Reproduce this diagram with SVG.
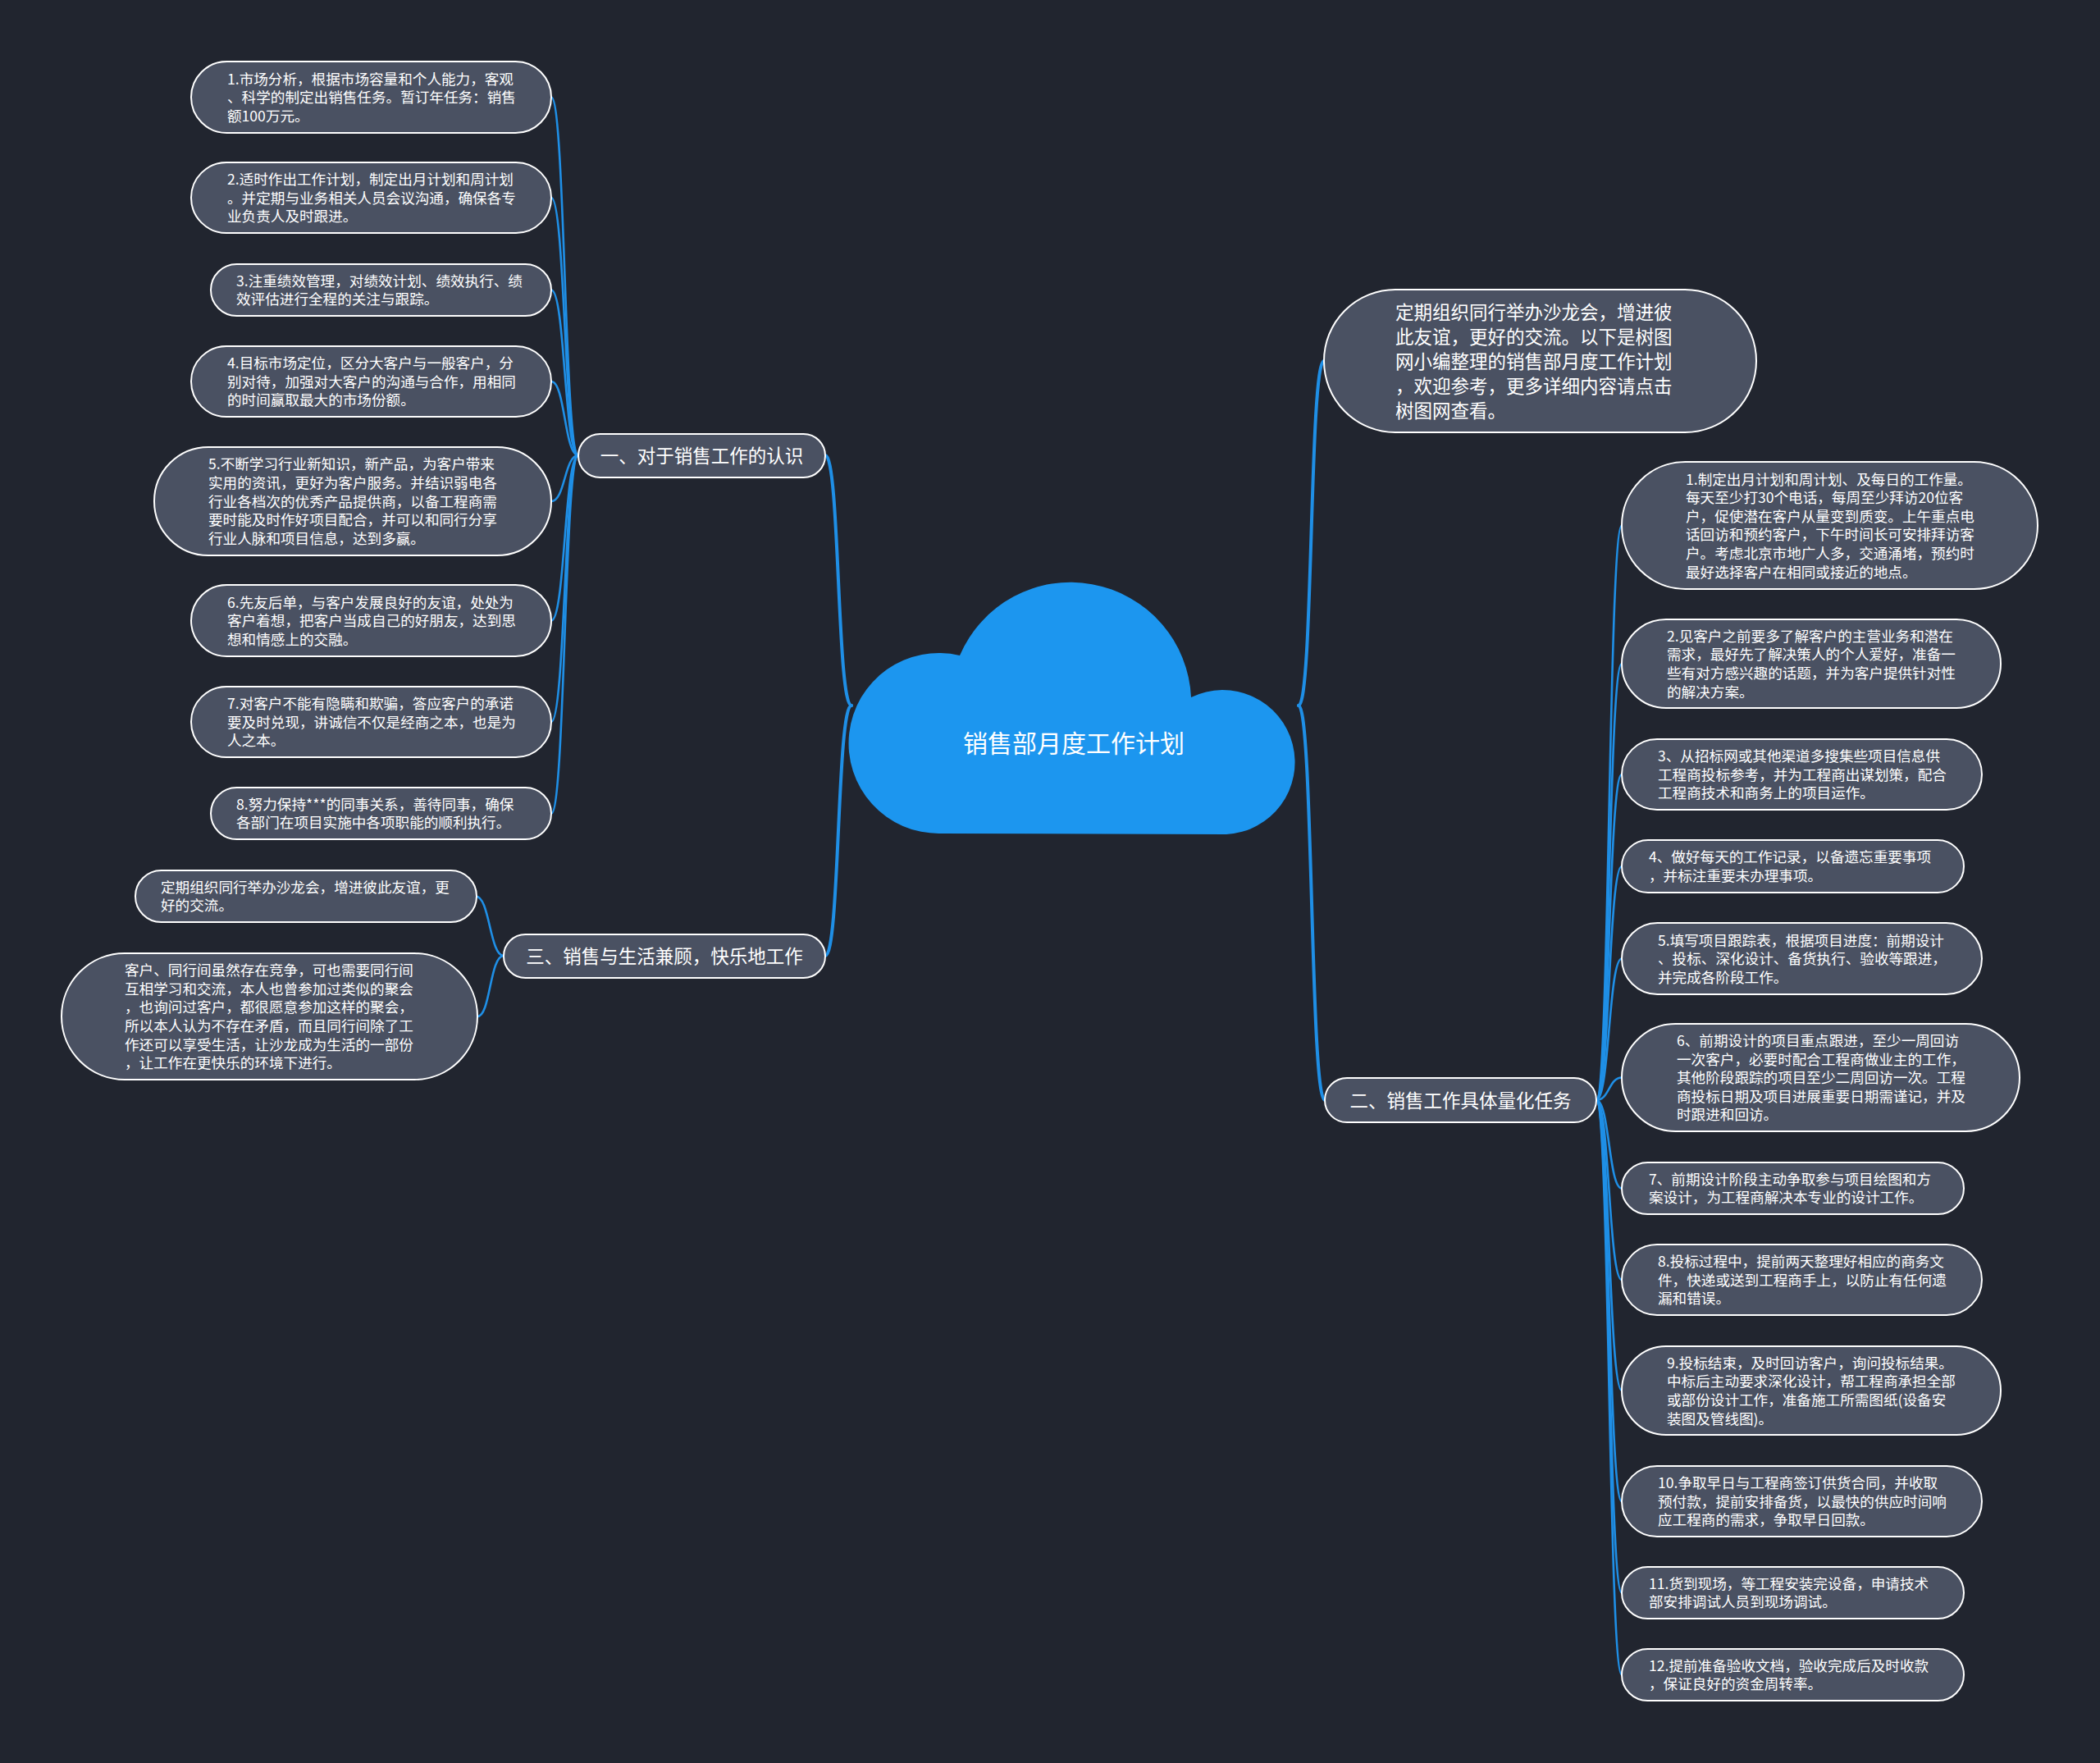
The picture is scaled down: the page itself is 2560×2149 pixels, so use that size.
<svg xmlns="http://www.w3.org/2000/svg" width="2560" height="2149" viewBox="0 0 2560 2149">
<style>
.bg{fill:#21252f}
.node{fill:#4a5162;stroke:#ffffff;stroke-width:2}
.t{font-family:"Noto Sans CJK SC","Microsoft YaHei",sans-serif;fill:#ffffff;dominant-baseline:central}
.leaf{font-size:17.6px}
.branch{font-size:22.5px}
.center{font-size:30px}
.c{fill:none;stroke:#1f8fe6;stroke-linecap:round}
.main{stroke-width:4}
.sub{stroke-width:2.6}
</style>
<rect class="bg" x="0" y="0" width="2560" height="2149"/>
<g id="connectors">
<path class="c main" d="M1038,860 C1020,860 1024,555 1006,555"/>
<path class="c main" d="M1038,860 C1020,860 1024,1165 1006,1165"/>
<path class="c main" d="M1583,860 C1601,860 1596,440 1614,440"/>
<path class="c main" d="M1583,860 C1601,860 1597,1341 1615,1341"/>
<path class="c sub" d="M705,555 C688,555 689,118.5 672,118.5"/>
<path class="c sub" d="M705,555 C688,555 689,241 672,241"/>
<path class="c sub" d="M705,555 C688,555 689,353.5 672,353.5"/>
<path class="c sub" d="M705,555 C688,555 689,465 672,465"/>
<path class="c sub" d="M705,555 C688,555 689,611 672,611"/>
<path class="c sub" d="M705,555 C688,555 689,756.5 672,756.5"/>
<path class="c sub" d="M705,555 C688,555 689,880 672,880"/>
<path class="c sub" d="M705,555 C688,555 689,991.5 672,991.5"/>
<path class="c sub" d="M614,1165 C597,1165 597,1092.5 580,1092.5"/>
<path class="c sub" d="M614,1165 C597,1165 598,1239 582,1239"/>
<path class="c sub" d="M1946,1341 C1962,1341 1961,640.5 1977,640.5"/>
<path class="c sub" d="M1946,1341 C1962,1341 1961,809 1977,809"/>
<path class="c sub" d="M1946,1341 C1962,1341 1961,944 1977,944"/>
<path class="c sub" d="M1946,1341 C1962,1341 1961,1056 1977,1056"/>
<path class="c sub" d="M1946,1341 C1962,1341 1961,1168.5 1977,1168.5"/>
<path class="c sub" d="M1946,1341 C1962,1341 1961,1313.5 1977,1313.5"/>
<path class="c sub" d="M1946,1341 C1962,1341 1961,1448.5 1977,1448.5"/>
<path class="c sub" d="M1946,1341 C1962,1341 1961,1560 1977,1560"/>
<path class="c sub" d="M1946,1341 C1962,1341 1961,1695 1977,1695"/>
<path class="c sub" d="M1946,1341 C1962,1341 1961,1830 1977,1830"/>
<path class="c sub" d="M1946,1341 C1962,1341 1961,1941.5 1977,1941.5"/>
<path class="c sub" d="M1946,1341 C1962,1341 1961,2041.5 1977,2041.5"/>
</g>
<g id="root">
<path d="M1146,1016 A110,110 0 1 1 1170,799 A147,147 0 0 1 1452,850 A88,88 0 1 1 1495,1017 Z" fill="#1c96ef"/>
<text class="t center" x="1309" y="904" text-anchor="middle">销售部月度工作计划</text>
</g>
<g id="intro">
<rect class="node" x="1614" y="353" width="527" height="174" rx="87" ry="87"/>
<text class="t branch"><tspan x="1701" y="379">定期组织同行举办沙龙会，增进彼</tspan><tspan x="1701" y="409">此友谊，更好的交流。以下是树图</tspan><tspan x="1701" y="439">网小编整理的销售部月度工作计划</tspan><tspan x="1701" y="469">，欢迎参考，更多详细内容请点击</tspan><tspan x="1701" y="499">树图网查看。</tspan></text>
</g>
<g id="b1">
<rect class="node" x="705" y="529" width="301" height="53" rx="26.5" ry="26.5"/>
<text class="t branch" x="855.5" y="554" text-anchor="middle">一、对于销售工作的认识</text>
</g>
<g id="b3">
<rect class="node" x="614" y="1139" width="392" height="53" rx="26.5" ry="26.5"/>
<text class="t branch" x="810" y="1164" text-anchor="middle">三、销售与生活兼顾，快乐地工作</text>
</g>
<g id="b2">
<rect class="node" x="1615" y="1314" width="331" height="54" rx="27" ry="27"/>
<text class="t branch" x="1780.5" y="1340" text-anchor="middle">二、销售工作具体量化任务</text>
</g>
<g id="l1">
<rect class="node" x="233" y="75" width="439" height="87" rx="43.5" ry="43.5"/>
<text class="t leaf"><tspan x="277" y="94.5">1.市场分析，根据市场容量和个人能力，客观</tspan><tspan x="277" y="117.1">、科学的制定出销售任务。暂订年任务：销售</tspan><tspan x="277" y="139.7">额100万元。</tspan></text>
</g>
<g id="l2">
<rect class="node" x="233" y="198" width="439" height="86" rx="43" ry="43"/>
<text class="t leaf"><tspan x="277" y="217">2.适时作出工作计划，制定出月计划和周计划</tspan><tspan x="277" y="239.6">。并定期与业务相关人员会议沟通，确保各专</tspan><tspan x="277" y="262.2">业负责人及时跟进。</tspan></text>
</g>
<g id="l3">
<rect class="node" x="257" y="322" width="415" height="63" rx="31.5" ry="31.5"/>
<text class="t leaf"><tspan x="288" y="340.8">3.注重绩效管理，对绩效计划、绩效执行、绩</tspan><tspan x="288" y="363.4">效评估进行全程的关注与跟踪。</tspan></text>
</g>
<g id="l4">
<rect class="node" x="233" y="422" width="439" height="86" rx="43" ry="43"/>
<text class="t leaf"><tspan x="277" y="441">4.目标市场定位，区分大客户与一般客户，分</tspan><tspan x="277" y="463.6">别对待，加强对大客户的沟通与合作，用相同</tspan><tspan x="277" y="486.2">的时间赢取最大的市场份额。</tspan></text>
</g>
<g id="l5">
<rect class="node" x="188" y="545" width="484" height="132" rx="66" ry="66"/>
<text class="t leaf"><tspan x="254" y="564.4">5.不断学习行业新知识，新产品，为客户带来</tspan><tspan x="254" y="587">实用的资讯，更好为客户服务。并结识弱电各</tspan><tspan x="254" y="609.6">行业各档次的优秀产品提供商，以备工程商需</tspan><tspan x="254" y="632.2">要时能及时作好项目配合，并可以和同行分享</tspan><tspan x="254" y="654.8">行业人脉和项目信息，达到多赢。</tspan></text>
</g>
<g id="l6">
<rect class="node" x="233" y="713" width="439" height="87" rx="43.5" ry="43.5"/>
<text class="t leaf"><tspan x="277" y="732.5">6.先友后单，与客户发展良好的友谊，处处为</tspan><tspan x="277" y="755.1">客户着想，把客户当成自己的好朋友，达到思</tspan><tspan x="277" y="777.7">想和情感上的交融。</tspan></text>
</g>
<g id="l7">
<rect class="node" x="233" y="837" width="439" height="86" rx="43" ry="43"/>
<text class="t leaf"><tspan x="277" y="856">7.对客户不能有隐瞒和欺骗，答应客户的承诺</tspan><tspan x="277" y="878.6">要及时兑现，讲诚信不仅是经商之本，也是为</tspan><tspan x="277" y="901.2">人之本。</tspan></text>
</g>
<g id="l8">
<rect class="node" x="257" y="960" width="415" height="63" rx="31.5" ry="31.5"/>
<text class="t leaf"><tspan x="288" y="978.8">8.努力保持***的同事关系，善待同事，确保</tspan><tspan x="288" y="1001.4">各部门在项目实施中各项职能的顺利执行。</tspan></text>
</g>
<g id="s1">
<rect class="node" x="165" y="1061" width="416" height="63" rx="31.5" ry="31.5"/>
<text class="t leaf"><tspan x="196" y="1079.8">定期组织同行举办沙龙会，增进彼此友谊，更</tspan><tspan x="196" y="1102.4">好的交流。</tspan></text>
</g>
<g id="s2">
<rect class="node" x="75" y="1162" width="507" height="154" rx="77" ry="77"/>
<text class="t leaf"><tspan x="152" y="1181.1">客户、同行间虽然存在竞争，可也需要同行间</tspan><tspan x="152" y="1203.7">互相学习和交流，本人也曾参加过类似的聚会</tspan><tspan x="152" y="1226.3">，也询问过客户，都很愿意参加这样的聚会，</tspan><tspan x="152" y="1248.9">所以本人认为不存在矛盾，而且同行间除了工</tspan><tspan x="152" y="1271.5">作还可以享受生活，让沙龙成为生活的一部份</tspan><tspan x="152" y="1294.1">，让工作在更快乐的环境下进行。</tspan></text>
</g>
<g id="r1">
<rect class="node" x="1977" y="563" width="507" height="155" rx="77.5" ry="77.5"/>
<text class="t leaf"><tspan x="2055" y="582.6">1.制定出月计划和周计划、及每日的工作量。</tspan><tspan x="2055" y="605.2">每天至少打30个电话，每周至少拜访20位客</tspan><tspan x="2055" y="627.8">户，促使潜在客户从量变到质变。上午重点电</tspan><tspan x="2055" y="650.4">话回访和预约客户，下午时间长可安排拜访客</tspan><tspan x="2055" y="673">户。考虑北京市地广人多，交通涌堵，预约时</tspan><tspan x="2055" y="695.6">最好选择客户在相同或接近的地点。</tspan></text>
</g>
<g id="r2">
<rect class="node" x="1977" y="755" width="462" height="108" rx="54" ry="54"/>
<text class="t leaf"><tspan x="2032" y="773.7">2.见客户之前要多了解客户的主营业务和潜在</tspan><tspan x="2032" y="796.3">需求，最好先了解决策人的个人爱好，准备一</tspan><tspan x="2032" y="818.9">些有对方感兴趣的话题，并为客户提供针对性</tspan><tspan x="2032" y="841.5">的解决方案。</tspan></text>
</g>
<g id="r3">
<rect class="node" x="1977" y="901" width="439" height="86" rx="43" ry="43"/>
<text class="t leaf"><tspan x="2021" y="920">3、从招标网或其他渠道多搜集些项目信息供</tspan><tspan x="2021" y="942.6">工程商投标参考，并为工程商出谋划策，配合</tspan><tspan x="2021" y="965.2">工程商技术和商务上的项目运作。</tspan></text>
</g>
<g id="r4">
<rect class="node" x="1977" y="1024" width="417" height="64" rx="32" ry="32"/>
<text class="t leaf"><tspan x="2010" y="1043.3">4、做好每天的工作记录，以备遗忘重要事项</tspan><tspan x="2010" y="1065.9">，并标注重要未办理事项。</tspan></text>
</g>
<g id="r5">
<rect class="node" x="1977" y="1125" width="439" height="87" rx="43.5" ry="43.5"/>
<text class="t leaf"><tspan x="2021" y="1144.5">5.填写项目跟踪表，根据项目进度：前期设计</tspan><tspan x="2021" y="1167.1">、投标、深化设计、备货执行、验收等跟进，</tspan><tspan x="2021" y="1189.7">并完成各阶段工作。</tspan></text>
</g>
<g id="r6">
<rect class="node" x="1977" y="1248" width="485" height="131" rx="65.5" ry="65.5"/>
<text class="t leaf"><tspan x="2044" y="1266.9">6、前期设计的项目重点跟进，至少一周回访</tspan><tspan x="2044" y="1289.5">一次客户，必要时配合工程商做业主的工作，</tspan><tspan x="2044" y="1312.1">其他阶段跟踪的项目至少二周回访一次。工程</tspan><tspan x="2044" y="1334.7">商投标日期及项目进展重要日期需谨记，并及</tspan><tspan x="2044" y="1357.3">时跟进和回访。</tspan></text>
</g>
<g id="r7">
<rect class="node" x="1977" y="1417" width="417" height="63" rx="31.5" ry="31.5"/>
<text class="t leaf"><tspan x="2010" y="1435.8">7、前期设计阶段主动争取参与项目绘图和方</tspan><tspan x="2010" y="1458.4">案设计，为工程商解决本专业的设计工作。</tspan></text>
</g>
<g id="r8">
<rect class="node" x="1977" y="1517" width="439" height="86" rx="43" ry="43"/>
<text class="t leaf"><tspan x="2021" y="1536">8.投标过程中，提前两天整理好相应的商务文</tspan><tspan x="2021" y="1558.6">件，快递或送到工程商手上，以防止有任何遗</tspan><tspan x="2021" y="1581.2">漏和错误。</tspan></text>
</g>
<g id="r9">
<rect class="node" x="1977" y="1641" width="462" height="108" rx="54" ry="54"/>
<text class="t leaf"><tspan x="2032" y="1659.7">9.投标结束，及时回访客户，询问投标结果。</tspan><tspan x="2032" y="1682.3">中标后主动要求深化设计，帮工程商承担全部</tspan><tspan x="2032" y="1704.9">或部份设计工作，准备施工所需图纸(设备安</tspan><tspan x="2032" y="1727.5">装图及管线图)。</tspan></text>
</g>
<g id="r10">
<rect class="node" x="1977" y="1787" width="439" height="86" rx="43" ry="43"/>
<text class="t leaf"><tspan x="2021" y="1806">10.争取早日与工程商签订供货合同，并收取</tspan><tspan x="2021" y="1828.6">预付款，提前安排备货，以最快的供应时间响</tspan><tspan x="2021" y="1851.2">应工程商的需求，争取早日回款。</tspan></text>
</g>
<g id="r11">
<rect class="node" x="1977" y="1910" width="417" height="63" rx="31.5" ry="31.5"/>
<text class="t leaf"><tspan x="2010" y="1928.8">11.货到现场，等工程安装完设备，申请技术</tspan><tspan x="2010" y="1951.4">部安排调试人员到现场调试。</tspan></text>
</g>
<g id="r12">
<rect class="node" x="1977" y="2010" width="417" height="63" rx="31.5" ry="31.5"/>
<text class="t leaf"><tspan x="2010" y="2028.8">12.提前准备验收文档，验收完成后及时收款</tspan><tspan x="2010" y="2051.4">，保证良好的资金周转率。</tspan></text>
</g>
</svg>
